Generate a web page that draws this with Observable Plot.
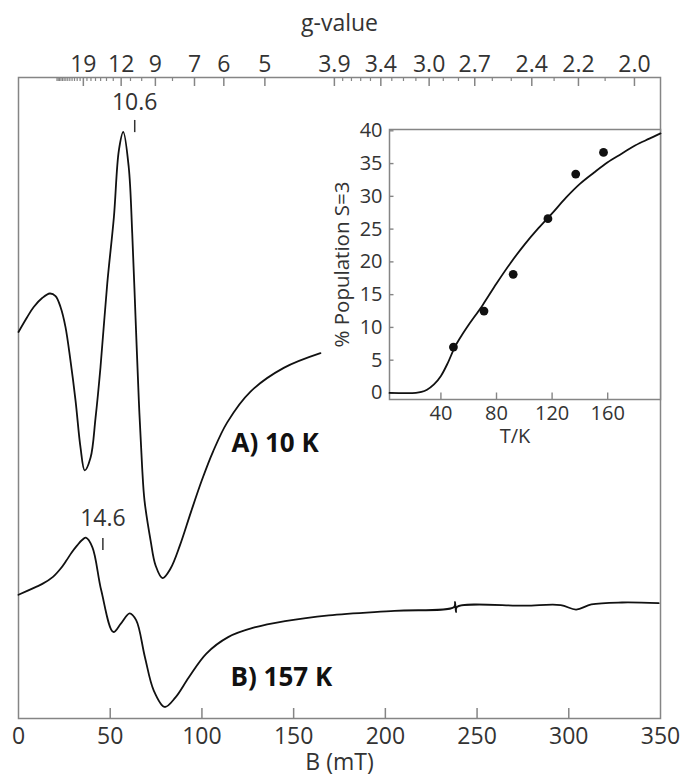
<!DOCTYPE html>
<html><head><meta charset="utf-8">
<script src="https://cdn.jsdelivr.net/npm/d3@7"></script>
<script src="https://cdn.jsdelivr.net/npm/@observablehq/plot@0.6"></script>
<style>
body{margin:0;background:#fff;}
#wrap{position:relative;width:686px;height:779px;overflow:hidden;}
#inset{position:absolute;left:325px;top:115px;}
</style></head><body><div id="wrap"><div id="main"></div><div id="inset"></div></div>
<script>
// resonance field constant for 9.4 GHz: B(mT) = K / g
const K = 671.6;

// Spectrum A) 10 K : field (mT) and signal (arb. units)
const fieldA  = [0, 4.7, 8.3, 12.9, 17.1, 20.2, 22.9, 25.6, 28.3, 31.1, 33.8, 36.1, 39.3, 42.0, 44.7, 48.4, 52.0, 54.7, 57.1, 60.1, 62.0, 63.8, 65.6, 67.4, 68.7, 72, 74.7, 78.5, 82.9, 88, 94, 100, 106, 113.8, 126.5, 144.6, 164.6];
const signalA = [60.3, 62.6, 64.2, 65.6, 66.3, 65.9, 64.2, 61.1, 55.9, 49.6, 42.3, 38.7, 40.7, 46.9, 54.8, 67.9, 78.2, 88.6, 91.5, 86.0, 75.7, 62.6, 49.6, 39.2, 34.0, 27.8, 23.9, 21.9, 23.4, 27.0, 32.2, 37.2, 41.6, 46.2, 51.0, 54.7, 57.0];

// Spectrum B) 157 K
const fieldB  = [0, 9.3, 13, 18.8, 23, 26, 29, 32, 34.5, 36.7, 40.3, 45.1, 51.7, 55.8, 60.6, 64.2, 68.9, 73.7, 79.7, 85.6, 92.8, 102.3, 114.3, 128.6, 145.3, 169.2, 205, 237.5, 238, 238.5, 239, 276.4, 295.6, 304, 312.3, 329, 349];
const signalB = [19.3, 20.5, 21.0, 22.1, 23.4, 24.6, 25.9, 27.0, 27.8, 28.2, 26.7, 20.0, 13.5, 14.8, 16.4, 15.3, 9.6, 4.4, 1.8, 3.3, 6.4, 10.1, 12.7, 14.2, 15.2, 16.1, 16.8, 17.4, 18.2, 16.6, 17.4, 17.6, 17.7, 17.0, 17.8, 18.1, 18.0];

// axis ticks
const bTicks  = [0, 50, 100, 150, 200, 250, 300, 350];
const gMajor  = [19, 12, 9, 7, 6, 5, 3.9, 3.4, 3.0, 2.7, 2.4, 2.2, 2.0];
const gMinor  = [32, 31, 30, 29, 28, 27, 26, 25, 24, 23, 22, 21, 20, 18, 17, 16, 15, 14, 13, 11, 10, 8, 3.8, 3.7, 3.6, 3.5, 3.3, 3.2, 3.1, 2.9, 2.8, 2.6, 2.5, 2.3, 2.1];

// g-value annotations
const annoG      = [10.6, 14.6];
const annoLabelY = [96.1, 31.2];
const annoTickLo = [91.4, 26.2];
const annoTickHi = [93.3, 28.1];

// trace labels
const traceNames  = ["A) 10 K", "B) 157 K"];
const traceLabelB = [116.1, 115.6];
const traceLabelY = [42.9, 6.4];

// inset data
const insetT   = [49, 71, 92, 117, 137, 157];
const insetPop = [7.0, 12.5, 18.1, 26.6, 33.4, 36.7];
const fitT   = [3, 22, 26, 30, 35, 40, 45, 50, 55, 60, 70, 80, 90, 100, 110, 120, 130, 140, 150, 160, 170, 180, 190, 198];
const fitPop = [0, 0, 0.15, 0.5, 1.3, 2.6, 4.6, 7.0, 8.8, 10.4, 13.4, 16.7, 19.8, 22.6, 25.1, 27.4, 29.8, 31.9, 33.6, 35.2, 36.5, 37.8, 38.8, 39.6];
const insetXTicks = [40, 80, 120, 160];
const insetYTicks = [0, 5, 10, 15, 20, 25, 30, 35, 40];

const FONT = "'Open Sans', 'Noto Sans', sans-serif";
const GREY = "#858585";
const TXT = "#333";

const traceA = fieldA.map((b, i) => ({b, s: signalA[i]}));
const traceB = fieldB.map((b, i) => ({b, s: signalB[i]}));
const annos = annoG.map((g, i) => ({g, ly: annoLabelY[i], lo: annoTickLo[i], hi: annoTickHi[i]}));
const labels = traceNames.map((t, i) => ({t, b: traceLabelB[i], y: traceLabelY[i]}));
const fmtG = g => g >= 4.5 ? String(Math.round(g)) : g.toFixed(1);

const W = 686, H = 779, mL = 18, mR = 26, mT = 77, mB = 61;
const fH = H - mT - mB;

const main = Plot.plot({
  width: W, height: H, marginLeft: mL, marginRight: mR, marginTop: mT, marginBottom: mB,
  x: {domain: [0, 350], axis: null},
  y: {domain: [0, 100], axis: null},
  style: {fontFamily: FONT, background: "white", overflow: "visible"},
  marks: [
    Plot.frame({stroke: GREY, strokeWidth: 1.5}),
    Plot.tickX(bTicks.filter(v => v > 0 && v < 350), {x: d => d, insetTop: fH - 10, stroke: GREY, strokeWidth: 1.5}),
    Plot.axisX(bTicks, {anchor: "bottom", tickSize: 0, tickPadding: 9, fontSize: 23, fill: TXT, label: null}),
    Plot.tickX(gMajor, {x: g => K / g, insetBottom: fH - 9, stroke: GREY, strokeWidth: 1.5}),
    Plot.tickX(gMinor, {x: g => K / g, insetBottom: fH - 4, stroke: GREY, strokeWidth: 1.2}),
    Plot.axisX(gMajor.map(g => K / g), {anchor: "top", tickSize: 0, tickPadding: 6, fontSize: 23, fill: TXT, label: null, tickFormat: b => fmtG(K / b)}),
    Plot.text(["g-value"], {frameAnchor: "top", lineAnchor: "middle", dy: -54, fontSize: 23, fill: TXT}),
    Plot.text(["B (mT)"], {frameAnchor: "bottom", lineAnchor: "middle", dy: 44, fontSize: 23, fill: TXT}),
    Plot.line(traceA, {x: "b", y: "s", curve: "catmull-rom", stroke: "#111", strokeWidth: 1.8}),
    Plot.line(traceB, {x: "b", y: "s", curve: "catmull-rom", stroke: "#111", strokeWidth: 1.8}),
    Plot.text(annos, {x: d => K / d.g, y: "ly", text: d => d.g.toFixed(1), fontSize: 23, fill: TXT}),
    Plot.ruleX(annos, {x: d => K / d.g, y1: "lo", y2: "hi", stroke: "#333", strokeWidth: 1.5}),
    Plot.text(labels, {x: "b", y: "y", text: "t", textAnchor: "start", fontSize: 26, fontWeight: "bold", fill: "#111"})
  ]
});
document.getElementById("main").append(main);

const iW = 361, iH = 335, iL = 64, iR = 26, iT = 14, iB = 51;
const ifH = iH - iT - iB, ifW = iW - iL - iR;
const points = insetT.map((t, i) => ({t, p: insetPop[i]}));
const fit = fitT.map((t, i) => ({t, p: fitPop[i]}));
const inset = Plot.plot({
  width: iW, height: iH, marginLeft: iL, marginRight: iR, marginTop: iT, marginBottom: iB,
  x: {domain: [3, 198], axis: null},
  y: {domain: [-1, 40.2], axis: null},
  style: {fontFamily: FONT, background: "transparent", overflow: "visible"},
  marks: [
    Plot.frame({fill: "white", stroke: GREY, strokeWidth: 1.5}),
    Plot.tickX(insetXTicks, {x: d => d, insetTop: ifH - 6.5, stroke: GREY, strokeWidth: 1.4}),
    Plot.tickY(insetYTicks, {y: d => d, insetRight: ifW - 4.5, stroke: GREY, strokeWidth: 1.4}),
    Plot.axisX(insetXTicks, {anchor: "bottom", tickSize: 0, tickPadding: 6, fontSize: 20, fill: TXT, label: null}),
    Plot.axisY(insetYTicks, {anchor: "left", tickSize: 0, tickPadding: 7, fontSize: 20, fill: TXT, label: null}),
    Plot.text(["T/K"], {frameAnchor: "bottom", lineAnchor: "middle", dx: -10, dy: 37, fontSize: 20, fill: TXT}),
    Plot.text(["% Population S=3"], {frameAnchor: "left", textAnchor: "middle", lineAnchor: "middle", dx: -47, dy: 0, rotate: -90, fontSize: 20.5, fill: TXT}),
    Plot.line(fit, {x: "t", y: "p", curve: "catmull-rom", stroke: "#111", strokeWidth: 1.8}),
    Plot.dot(points, {x: "t", y: "p", r: 4.4, fill: "#111", stroke: "none"})
  ]
});
document.getElementById("inset").append(inset);
</script>
</body></html>
